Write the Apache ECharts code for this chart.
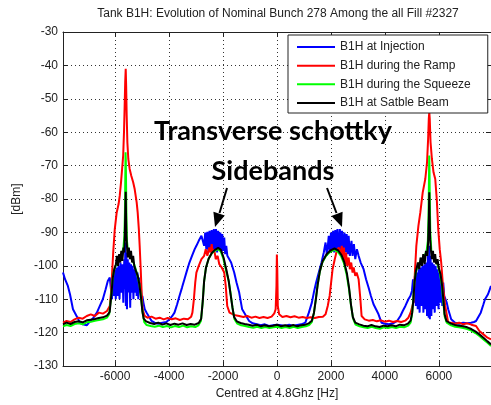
<!DOCTYPE html>
<html>
<head>
<meta charset="utf-8">
<script src="https://cdn.jsdelivr.net/npm/echarts@6/dist/echarts.min.js"></script>
<style>html,body{margin:0;padding:0;background:#fff}#c{width:491px;height:405px}</style>
</head>
<body>
<div id="c"></div>
<script>
var titleText = 'Tank B1H: Evolution of Nominal Bunch 278 Among the all Fill #2327';
var xName = 'Centred at 4.8Ghz [Hz]';
var yName = '[dBm]';
var seriesNames = ['B1H at Injection', 'B1H during the Ramp', 'B1H during the Squeeze', 'B1H at Satble Beam'];
var xTicks = [-6000, -4000, -2000, 0, 2000, 4000, 6000];
var yTicks = [-130, -120, -110, -100, -90, -80, -70, -60, -50, -40, -30];

var injection = [
[-7930,-102],[-7855,-104],[-7750,-106],[-7671,-108.5],[-7560,-113],[-7413,-115.2],[-7302,-117],[-7200,-117.5],[-7050,-117.8],[-6933,-116.6],[-6800,-115.5],[-6675,-114],[-6565,-112],[-6454,-110],[-6350,-107],[-6270,-104.5],[-6196,-103.5],
[-6150,-104],[-6115,-110],[-6080,-102],[-6045,-109],[-6010,-101],[-5975,-110],[-5940,-100.5],[-5905,-109],[-5870,-100],[-5835,-110],[-5800,-99],[-5765,-108],[-5730,-99.5],[-5695,-111],[-5660,-98],[-5640,-107],[-5620,-93],[-5600,-112],[-5580,-96],[-5560,-113],[-5530,-98],[-5500,-108],[-5470,-99],[-5440,-112.5],[-5410,-99.5],[-5380,-108],[-5350,-100],[-5320,-110],[-5290,-101],[-5260,-108],[-5230,-101.5],[-5200,-109],[-5170,-102],[-5140,-110],[-5110,-103.5],[-5080,-108],[-5050,-105],[-5020,-110],[-4990,-109],
[-4950,-111],[-4900,-113],[-4831,-114],[-4720,-115.5],[-4647,-116.5],[-4536,-117],[-4400,-117.3],[-4250,-117],[-4100,-116.8],[-3983,-116],[-3880,-115],[-3799,-114],[-3700,-111.5],[-3614,-109],[-3520,-106.5],[-3430,-104],[-3340,-101.5],[-3245,-99],[-3150,-97],[-3050,-95],[-2987,-94],[-2900,-92.5],[-2800,-91],
[-2740,-90.5],[-2700,-94],[-2660,-90],[-2620,-95],[-2580,-89.8],[-2540,-96],[-2500,-89.5],[-2460,-95],[-2420,-89.3],[-2380,-96],[-2340,-89],[-2300,-95.5],[-2260,-89],[-2220,-96],[-2180,-89.5],[-2139,-95],[-2100,-90],[-2060,-96],[-2028,-90.5],[-1990,-95.5],[-1955,-91.5],[-1920,-96.5],[-1880,-94],[-1840,-97],
[-1770,-96.5],[-1700,-99],[-1586,-102],[-1500,-105],[-1401,-108],[-1291,-113],[-1143,-115],[-1033,-116.5],[-900,-117.2],[-750,-117.5],[-600,-117.8],[-450,-117.5],[-300,-118],[-150,-117.8],[0,-117.6],[150,-117.8],[300,-118],[450,-117.6],[600,-118],[750,-117.7],[900,-117.5],[1050,-117],[1180,-114],[1291,-111],[1365,-108],[1450,-105],[1549,-102],[1650,-99],[1733,-96],
[1800,-93],[1850,-97],[1918,-91],[1960,-96],[2000,-90],[2040,-95.5],[2080,-89.5],[2120,-96],[2160,-89.3],[2200,-95],[2240,-89],[2287,-95.5],[2330,-89],[2370,-96],[2410,-89.5],[2450,-95],[2500,-90],[2540,-96],[2580,-90.5],[2620,-96.5],[2655,-91],[2700,-97],[2760,-92.5],[2800,-97],[2850,-93.5],[2900,-98],[2960,-95],
[3024,-97],[3100,-99],[3209,-101],[3300,-104],[3393,-106.5],[3480,-109],[3577,-111.5],[3670,-113],[3762,-114.5],[3872,-117],[4000,-117.3],[4150,-117.5],[4300,-117.2],[4450,-116.5],[4573,-115],[4660,-113.5],[4757,-112],[4868,-110],[4942,-109],[5000,-107.5],
[5040,-104],[5075,-111],[5110,-103],[5145,-112],[5180,-102],[5215,-113],[5250,-101],[5285,-114],[5320,-100.5],[5355,-112],[5390,-100],[5425,-114],[5460,-99.5],[5495,-113],[5530,-99],[5560,-115],[5590,-97],[5620,-115.5],[5643,-94],[5665,-116],[5690,-97],[5720,-115],[5750,-99],[5780,-113],[5810,-99.5],[5845,-114],[5880,-100],[5915,-112],[5950,-101],[5985,-113],[6020,-102],[6055,-111],[6090,-103],[6125,-112],[6160,-105],[6196,-109],
[6233,-109.5],[6290,-111],[6344,-113],[6400,-114.5],[6454,-116],[6600,-117],[6750,-117.3],[6900,-117],[7050,-117.2],[7191,-117],[7300,-116.8],[7376,-116.5],[7450,-116],[7550,-114],[7650,-111.5],[7708,-110],[7819,-108.5],[7930,-106]
];

var ramp = [
[-7930,-117],[-7800,-116.5],[-7650,-116.8],[-7500,-116],[-7350,-115.5],[-7200,-115.8],[-7050,-115],[-6900,-114.5],[-6750,-115],[-6600,-114],[-6450,-114.3],[-6300,-113.5],
[-6250,-113],[-6196,-112],[-6150,-108],[-6122,-104],[-6070,-96],[-6011,-89],[-5940,-84],[-5870,-81.5],[-5827,-79],[-5780,-75],[-5740,-71],[-5700,-67],[-5670,-60],[-5645,-52],[-5625,-45],[-5606,-41],[-5590,-46],[-5570,-55],[-5545,-63],[-5510,-68],[-5460,-71],[-5400,-73],[-5330,-75],[-5274,-77],[-5200,-81],[-5163,-84],[-5120,-89],[-5089,-94],[-5050,-101],[-5016,-108],[-4980,-113],[-4905,-115],
[-4800,-115.5],[-4650,-115.2],[-4500,-115.8],[-4350,-115.5],[-4200,-116],[-4050,-115.6],[-3900,-116],[-3750,-115.7],[-3600,-116.2],[-3450,-115.8],[-3300,-116],[-3180,-115.2],[-3135,-114],[-3080,-110],[-3030,-105],[-2987,-102],[-2900,-100],[-2800,-98],[-2700,-97],[-2640,-95],[-2580,-97],[-2508,-94.5],[-2460,-96],[-2420,-93.5],[-2380,-96],[-2330,-95],[-2270,-98],[-2200,-97],[-2139,-99.5],[-2050,-100.5],[-1955,-102],[-1900,-106],[-1844,-112],[-1760,-114],[-1696,-114.5],
[-1550,-114.8],[-1400,-115],[-1250,-115.3],[-1100,-115],[-950,-115.5],[-800,-115.2],[-650,-115.6],[-500,-115.3],[-350,-115.6],[-200,-115.2],[-100,-114.2],[-50,-113],[-20,-106],[-5,-96.6],[10,-101],[30,-112],[80,-114.5],[200,-115.3],[350,-115],[500,-115.4],[650,-115.1],[800,-115.5],[950,-115.3],[1100,-115.6],[1250,-115.4],[1400,-115.6],[1550,-115.3],[1700,-115.2],[1800,-114.5],[1880,-112],[1950,-109],[1992,-106],[2060,-101],[2140,-98],[2200,-96],[2290,-94.5],
[2350,-96.5],[2400,-94],[2440,-98],[2480,-94.5],[2520,-99.5],[2560,-96],[2600,-100],[2655,-97.5],[2700,-101],[2750,-99],[2800,-102],[2840,-100.5],[2900,-103],[2950,-102],[3024,-104],[3090,-110],[3135,-115],
[3250,-116],[3400,-116.4],[3550,-116.2],[3700,-116.6],[3850,-116.3],[4000,-116.7],[4150,-116.4],[4300,-116.8],[4450,-116.5],[4600,-116.8],[4750,-116.4],[4868,-115.5],[4950,-114],[5053,-111],[5110,-102],[5163,-94],[5240,-88],[5311,-84],[5400,-78],[5495,-74],[5560,-69],[5600,-62],[5625,-56],[5643,-54],[5660,-56],[5690,-63],[5740,-68],[5800,-72],[5864,-74],[5920,-80],[5975,-89],[6030,-95],[6085,-99],[6150,-106],[6233,-112],[6344,-117],
[6450,-117],[6600,-117.3],[6750,-117],[6900,-117.5],[7050,-117.2],[7200,-117.6],[7376,-118],[7500,-119.5],[7650,-120.5],[7800,-121.5],[7930,-122]
];

var squeeze = [
[-7930,-118.1],[-7800,-117.7],[-7650,-118],[-7500,-117.4],[-7350,-117.2],[-7200,-117.5],[-7050,-116.9],[-6900,-116.7],[-6750,-116.4],[-6600,-116.2],[-6450,-116],[-6300,-115.5],[-6220,-114.5],[-6150,-109.5],[-6100,-104.5],[-6045,-101.5],[-5970,-99.8],[-5890,-98.6],[-5810,-97.6],[-5740,-96.2],[-5690,-94.5],[-5655,-91],[-5635,-84],[-5622,-74],[-5612,-66],[-5603,-68],[-5592,-76],[-5578,-86],[-5560,-92.5],[-5520,-95.8],[-5440,-97],[-5360,-98.3],[-5280,-99.8],[-5190,-102.3],[-5100,-105.5],[-5030,-110],[-4975,-114.3],[-4920,-116.8],
[-4830,-117.7],[-4680,-118],[-4530,-118.2],[-4380,-117.9],[-4230,-118.3],[-4080,-118],[-3930,-118.4],[-3780,-118],[-3630,-118.3],[-3480,-117.9],[-3330,-118.4],[-3180,-118.1],[-3030,-118.3],[-2910,-117.8],[-2820,-116.5],[-2760,-111.5],[-2705,-105],[-2640,-100.8],[-2540,-98],[-2430,-96.4],[-2310,-95.5],[-2190,-95],[-2090,-95.6],[-1990,-97.8],[-1890,-101.3],[-1790,-104.5],[-1710,-108.8],[-1640,-113],[-1575,-116],
[-1470,-117.3],[-1330,-117.8],[-1180,-118],[-1030,-118.3],[-880,-118.5],[-730,-118.2],[-580,-118.6],[-430,-118.3],[-280,-118.6],[-130,-118.4],[20,-118.2],[170,-118.6],[320,-118.3],[470,-118.6],[620,-118.2],[770,-118.6],[920,-118.3],[1070,-118.1],[1190,-117.7],[1290,-116.8],[1360,-114.5],[1430,-110.5],[1500,-106],[1580,-102],[1680,-99],[1820,-97],[1970,-95.8],[2120,-95.2],[2260,-95.8],[2380,-97.2],[2480,-99.2],[2580,-102.6],[2670,-107],[2745,-112],[2820,-115.8],
[2910,-117.6],[3060,-118.1],[3210,-118.4],[3360,-118.6],[3510,-118.2],[3660,-118.6],[3810,-118.8],[3960,-118.4],[4110,-118.6],[4260,-118.3],[4410,-118.6],[4560,-118.2],[4710,-118.4],[4860,-117.9],[4950,-117],[5000,-114.8],[5045,-110.5],[5085,-105.5],[5140,-102],[5240,-99.5],[5340,-98.4],[5440,-97.3],[5540,-95.8],[5590,-92.5],[5615,-85],[5630,-75],[5641,-67],[5650,-70],[5662,-80],[5680,-90],[5720,-95.5],[5800,-97.3],[5880,-98.3],[5960,-99.8],[6040,-102.3],[6110,-106],[6165,-111],[6215,-115.2],
[6290,-117],[6450,-117.8],[6600,-118.2],[6750,-118.4],[6900,-118.6],[7050,-118.9],[7200,-119.4],[7350,-120.1],[7500,-121],[7650,-122],[7800,-123],[7930,-124]
];

var stable = [
[-7930,-117.5],[-7800,-117],[-7650,-117.4],[-7500,-116.8],[-7350,-116.6],[-7200,-116.9],[-7050,-116.3],[-6900,-116.1],[-6750,-115.9],[-6600,-115.6],[-6450,-115.4],[-6300,-114.9],[-6200,-113.8],[-6130,-108],[-6085,-103.5],[-6030,-101],[-5970,-99.5],[-5930,-97],[-5890,-100],[-5850,-96.5],[-5810,-99],[-5770,-95.5],[-5730,-98.5],[-5690,-94.5],[-5660,-96],[-5640,-91],[-5625,-85],[-5606,-77.8],[-5595,-84],[-5580,-91],[-5560,-94],[-5530,-97.5],[-5490,-94.5],[-5450,-98],[-5410,-95.5],[-5370,-99],[-5330,-97],[-5290,-100],[-5230,-101.5],[-5160,-103],[-5100,-105.5],[-5040,-109.5],[-4990,-113.5],[-4940,-115.8],
[-4850,-116.6],[-4700,-117.1],[-4550,-117.4],[-4400,-117],[-4250,-117.6],[-4100,-117.2],[-3950,-117.7],[-3800,-117.3],[-3650,-117.6],[-3500,-117.2],[-3350,-117.7],[-3200,-117.4],[-3050,-117.6],[-2900,-117.1],[-2810,-115.8],[-2750,-110.5],[-2700,-104.5],[-2630,-100.5],[-2530,-97.8],[-2420,-96.2],[-2300,-95.2],[-2180,-94.6],[-2080,-95.2],[-1980,-97.5],[-1880,-101],[-1790,-104.5],[-1720,-108.5],[-1650,-112.5],[-1590,-115.3],
[-1490,-116.6],[-1350,-117.1],[-1200,-117.4],[-1050,-117.6],[-900,-117.9],[-750,-117.6],[-600,-118.1],[-450,-117.8],[-300,-118.1],[-150,-117.9],[0,-117.6],[150,-118.1],[300,-117.8],[450,-118.1],[600,-117.7],[750,-118.1],[900,-117.8],[1050,-117.6],[1180,-117.2],[1290,-116.4],[1370,-114],[1440,-110],[1510,-105.5],[1590,-101.5],[1690,-98.6],[1830,-96.6],[1980,-95.4],[2130,-94.8],[2270,-95.4],[2390,-96.8],[2490,-98.8],[2590,-102.2],[2670,-106.5],[2740,-111.5],[2810,-115.3],
[2900,-117],[3050,-117.5],[3200,-117.9],[3350,-118.1],[3500,-117.7],[3650,-118.1],[3800,-118.3],[3950,-117.9],[4100,-118.1],[4250,-117.8],[4400,-118.1],[4550,-117.6],[4700,-117.8],[4850,-117.3],[4950,-116.4],[5010,-114],[5055,-110],[5095,-105],[5150,-101.5],[5220,-99],[5270,-101],[5320,-97.5],[5370,-100],[5420,-96.5],[5470,-99.5],[5520,-95.5],[5570,-97],[5600,-93],[5625,-86],[5643,-78],[5655,-85],[5675,-92],[5700,-95],[5740,-98],[5780,-95.5],[5820,-99],[5860,-96.5],[5900,-99.5],[5950,-98],[5990,-100.5],[6060,-102.5],[6120,-106],[6170,-110.5],[6210,-114.5],
[6280,-116.5],[6450,-117.3],[6600,-117.7],[6750,-117.9],[6900,-118.1],[7050,-118.4],[7200,-118.9],[7350,-119.6],[7500,-120.5],[7650,-121.5],[7800,-122.6],[7930,-123.5]
];

var colors = ['#0000ff', '#ff0000', '#00ff00', '#000000'];
var dataSets = [injection, ramp, squeeze, stable];

var FONT = '"Liberation Sans", Arial, sans-serif';
var AX = '#222';
var chart = echarts.init(document.getElementById('c'), null, {renderer: 'canvas'});

function plain(v) { return String(v); }

function mkX(pos, isMain) {
  return {
    type: 'value', position: pos, min: -7930, max: 7930, gridIndex: 0,
    axisLine: {show: true, onZero: false, lineStyle: {color: AX, width: 1}},
    axisTick: {show: true, inside: true, length: 5, customValues: xTicks, lineStyle: {color: AX}},
    axisLabel: {show: isMain, customValues: xTicks, formatter: plain, margin: 5, color: AX, fontSize: 12, fontFamily: FONT},
    splitLine: {show: isMain, lineStyle: {color: '#333', width: 1, type: [1, 3]}},
    name: isMain ? xName : '', nameLocation: 'middle', nameGap: 21,
    nameTextStyle: {color: AX, fontSize: 12, fontFamily: FONT}
  };
}
function mkY(pos, isMain) {
  return {
    type: 'value', position: pos, min: -130, max: -30, interval: 10, gridIndex: 0,
    axisLine: {show: true, onZero: false, lineStyle: {color: AX, width: 1}},
    axisTick: {show: true, inside: true, length: 5, lineStyle: {color: AX}},
    axisLabel: {show: isMain, formatter: plain, margin: 5, color: AX, fontSize: 12, fontFamily: FONT},
    splitLine: {show: isMain, lineStyle: {color: '#333', width: 1, type: [1, 3]}},
    name: isMain ? yName : '', nameLocation: 'middle', nameGap: 39,
    nameTextStyle: {color: AX, fontSize: 12, fontFamily: FONT}
  };
}

var series = dataSets.map(function (d, i) {
  return {
    name: seriesNames[i], type: 'line', data: d, showSymbol: false, symbol: 'none',
    xAxisIndex: 0, yAxisIndex: 0,
    lineStyle: {color: colors[i], width: 2}, itemStyle: {color: colors[i]},
    z: 2 + i, animation: false
  };
});

function arrow(x0, y0, bx, by, tx, ty, p1x, p1y, p2x, p2y) {
  return [
    {type: 'line', shape: {x1: x0, y1: y0, x2: bx, y2: by}, style: {stroke: '#000', lineWidth: 2}, z: 100},
    {type: 'polygon', shape: {points: [[tx, ty], [p1x, p1y], [p2x, p2y]]}, style: {fill: '#000'}, z: 100}
  ];
}

var graphics = [
  {type: 'text', x: 273, y: 131, style: {text: 'Transverse schottky', font: 'bold 27px Lato', fill: '#000', textAlign: 'center', textVerticalAlign: 'middle'}, z: 100},
  {type: 'text', x: 273, y: 171, style: {text: 'Sidebands', font: 'bold 27px Lato', fill: '#000', textAlign: 'center', textVerticalAlign: 'middle'}, z: 100}
].concat(arrow(227, 188, 219.5, 213, 215, 227, 224.8, 215.4, 213.4, 211.8))
 .concat(arrow(327, 188, 336.5, 213, 342, 227, 342.6, 211.7, 331.4, 216.1));

chart.setOption({
  animation: false,
  backgroundColor: '#fff',
  title: {text: titleText, left: 278, top: 8, padding: 0, textAlign: 'center',
    textStyle: {fontSize: 12, fontWeight: 'normal', color: AX, fontFamily: FONT}},
  grid: {left: 63, right: -2, top: 32, bottom: 38, containLabel: false},
  legend: {
    data: seriesNames, orient: 'vertical', left: 288, top: 35,
    backgroundColor: '#fff', borderColor: AX, borderWidth: 1, borderRadius: 0,
    padding: [5, 17, 3, 9], itemWidth: 38, itemHeight: 2, itemGap: 4.67, icon: 'rect',
    textStyle: {fontSize: 12, color: AX, fontFamily: FONT, lineHeight: 14},
    selectedMode: false, z: 50
  },
  xAxis: [mkX('bottom', true), mkX('top', false)],
  yAxis: [mkY('left', true), mkY('right', false)],
  series: series,
  graphic: graphics
});
</script>
</body>
</html>
